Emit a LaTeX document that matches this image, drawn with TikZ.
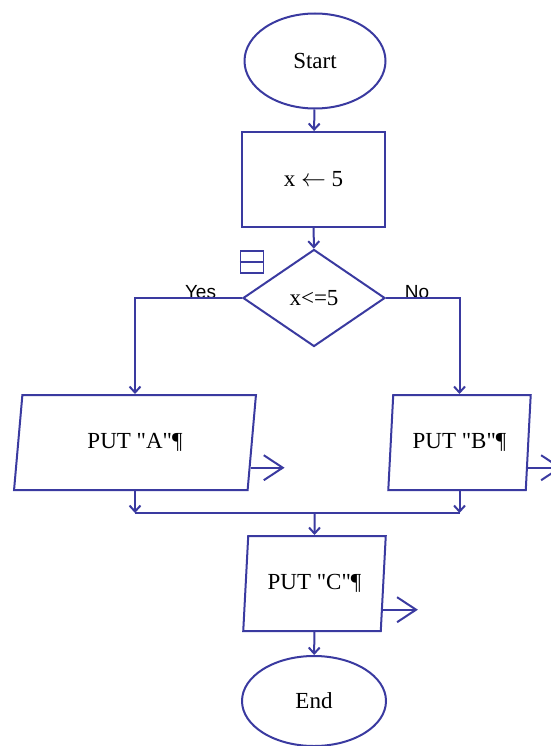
\documentclass[tikz,border=0pt]{standalone}
\usepackage{fontspec}
\setmainfont{Liberation Serif}[Ligatures=TeXOff]
\newfontfamily\labelfont{Liberation Sans}
\usetikzlibrary{shapes.geometric,arrows.meta,calc}
\definecolor{flowline}{RGB}{58,58,160}
\tikzset{
  base/.style={draw=flowline, line width=2pt, inner sep=0pt, font=\fontsize{23}{26}\selectfont, text=black},
  term/.style={base, ellipse},
  procbox/.style={base, rectangle},
  decbox/.style={base, diamond},
  iobox/.style={base, trapezium, trapezium left angle=79, trapezium right angle=101, trapezium stretches=true},
  flow/.style={draw=flowline, line width=2pt, -{Straight Barb[length=6pt,width=11pt]}},
  plain/.style={draw=flowline, line width=2pt},
  outarrow/.style={draw=flowline, line width=2pt, -{Straight Barb[length=19pt,width=25pt]}},
  lbl/.style={font=\labelfont\fontsize{19}{22}\selectfont, text=black, inner sep=0pt, anchor=base},
}
\begin{document}
\begin{tikzpicture}[x=1pt,y=-1pt]
\useasboundingbox (0,0) rectangle (550,746);
\node[term, minimum width=141pt, minimum height=95pt] (start) at (315,61) {Start};
\node[procbox, minimum width=143pt, minimum height=95pt] (assign) at (313.5,179.5) {x $\leftarrow$ 5};
\node[decbox, minimum width=142pt, minimum height=97pt] (dec) at (314,298) {x<=5};
\node[iobox, minimum width=242pt, minimum height=95pt] (pa) at (135,442.5) {PUT "A"¶};
\node[iobox, minimum width=143pt, minimum height=95pt] (pb) at (459.5,442.5) {PUT "B"¶};
\node[iobox, minimum width=143pt, minimum height=95pt] (pc) at (314.5,583.5) {PUT "C"¶};
\node[term, minimum width=144pt, minimum height=90pt] (stop) at (314,701) {End};
% small icon
\node[draw=flowline, line width=1.5pt, minimum width=23pt, minimum height=22pt, inner sep=0pt] (icon) at (252,262) {};
\draw[flowline, line width=1.5pt] (icon.west) -- (icon.east);
% labels
\node[lbl] (yes) at (200.5,298) {Yes};
\node[lbl] (no) at (417,298) {No};
% connectors
\draw[flow] (start) -- (assign);
\draw[flow] (assign) -- (dec);
\draw[flow] (dec.west) -| (pa.north);
\draw[flow] (dec.east) -| (pb.north);
\coordinate (m) at (314.5,513);
\draw[flow] (pa.south) -- (pa.south |- m);
\draw[flow] (pb.south) -- (pb.south |- m);
\draw[plain] (pa.south |- m) -- (pb.south |- m);
\draw[flow] (m) -- (pc.north);
\draw[flow] (pc) -- (stop);
% output arrows
\coordinate (oa) at ($(pa.bottom right corner)!0.24!(pa.top right corner)$);
\coordinate (ob) at ($(pb.bottom right corner)!0.24!(pb.top right corner)$);
\coordinate (oc) at ($(pc.bottom right corner)!0.23!(pc.top right corner)$);
\coordinate (oae) at ($(oa)+(34,0)$);
\coordinate (obe) at ($(ob)+(34,0)$);
\coordinate (oce) at ($(oc)+(35,0)$);
\draw[outarrow] (oa) -- (oae);
\draw[outarrow] (ob) -- (obe);
\draw[outarrow] (oc) -- (oce);
\end{tikzpicture}
\end{document}
